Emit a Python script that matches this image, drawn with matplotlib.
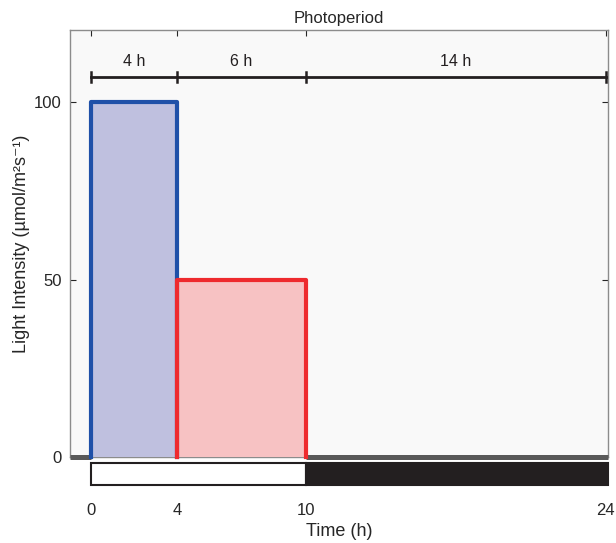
import matplotlib
matplotlib.use("Agg")
import matplotlib.pyplot as plt
from matplotlib.patches import Rectangle

plt.rcParams['font.family'] = ['Liberation Sans', 'DejaVu Sans']

# data
phase_starts = [0, 4]
phase_ends = [4, 10]
phase_intensity = [100, 50]
phase_edge = ['#1f50a8', '#ee2a2e']
phase_fill = ['#bfc0df', '#f7c2c3']
bracket_points = [0, 4, 10, 24]
bracket_labels = ['4 h', '6 h', '14 h']
light_period = (0, 10)
dark_period = (10, 24)
xticks = [0, 4, 10, 24]
yticks = [0, 50, 100]

fig = plt.figure(figsize=(6.16, 5.43), dpi=100)
W, H = 616, 543
ax = fig.add_axes([70 / W, 1 - 457 / H, (608 - 70) / W, (457 - 30) / H])
ax.set_facecolor('#f9f9f9')
ax.set_xlim(-1, 24.1)
ax.set_ylim(0, 120.3)

# baseline
ax.plot([-1, 0], [0, 0], color='#595959', lw=3.6, solid_capstyle='butt', zorder=3.5, clip_on=False)
ax.plot([10, 24.1], [0, 0], color='#595959', lw=3.6, solid_capstyle='butt', zorder=3.5, clip_on=False)

for s, e, v, ec, fc in zip(phase_starts, phase_ends, phase_intensity, phase_edge, phase_fill):
    ax.fill_between([s, e], [0, 0], [v, v], color=fc, lw=0, zorder=3)
    ax.plot([s, s, e, e], [0, v, v, 0], color=ec, lw=3.0, solid_joinstyle='round', zorder=4, clip_on=False)

# brackets
by = 107
ax.plot([bracket_points[0], bracket_points[-1]], [by, by], color='#231f20', lw=2.0, zorder=5)
for p in bracket_points:
    ax.plot([p, p], [by - 1.4, by + 1.4], color='#231f20', lw=1.8, zorder=5)
for a, b, lab in zip(bracket_points[:-1], bracket_points[1:], bracket_labels):
    ax.text((a + b) / 2, 111.5, lab, ha='center', va='center', fontsize=11.5, color='#231f20')

# light/dark bar
bar_y0 = -1.8
bar_h = -6.0
ax.add_patch(Rectangle((light_period[0], bar_y0), light_period[1] - light_period[0], bar_h,
                       facecolor='white', edgecolor='#231f20', lw=1.5, clip_on=False, zorder=5))
ax.add_patch(Rectangle((dark_period[0], bar_y0), dark_period[1] - dark_period[0] + 0.1, bar_h,
                       facecolor='#231f20', edgecolor='#231f20', lw=1.5, clip_on=False, zorder=5))

ax.set_xticks(xticks)
ax.set_xticklabels([str(t) for t in xticks])
ax.set_yticks(yticks)
ax.tick_params(axis='x', direction='in', top=True, bottom=False, length=4, width=0.8,
               pad=33, labelsize=12, colors='#262626')
ax.tick_params(axis='y', direction='in', right=True, length=4, width=0.8,
               pad=6, labelsize=12, colors='#262626')
for sp in ax.spines.values():
    sp.set_color('#8c8c8c')
    sp.set_linewidth(1.0)

ax.set_title('Photoperiod', fontsize=12, pad=5, color='#262626')
ax.set_xlabel('Time (h)', fontsize=13, labelpad=4, color='#262626')
ax.set_ylabel('Light Intensity (µmol/m²s⁻¹)', fontsize=13, labelpad=3, color='#262626')

fig.savefig('out.png', dpi=100)
